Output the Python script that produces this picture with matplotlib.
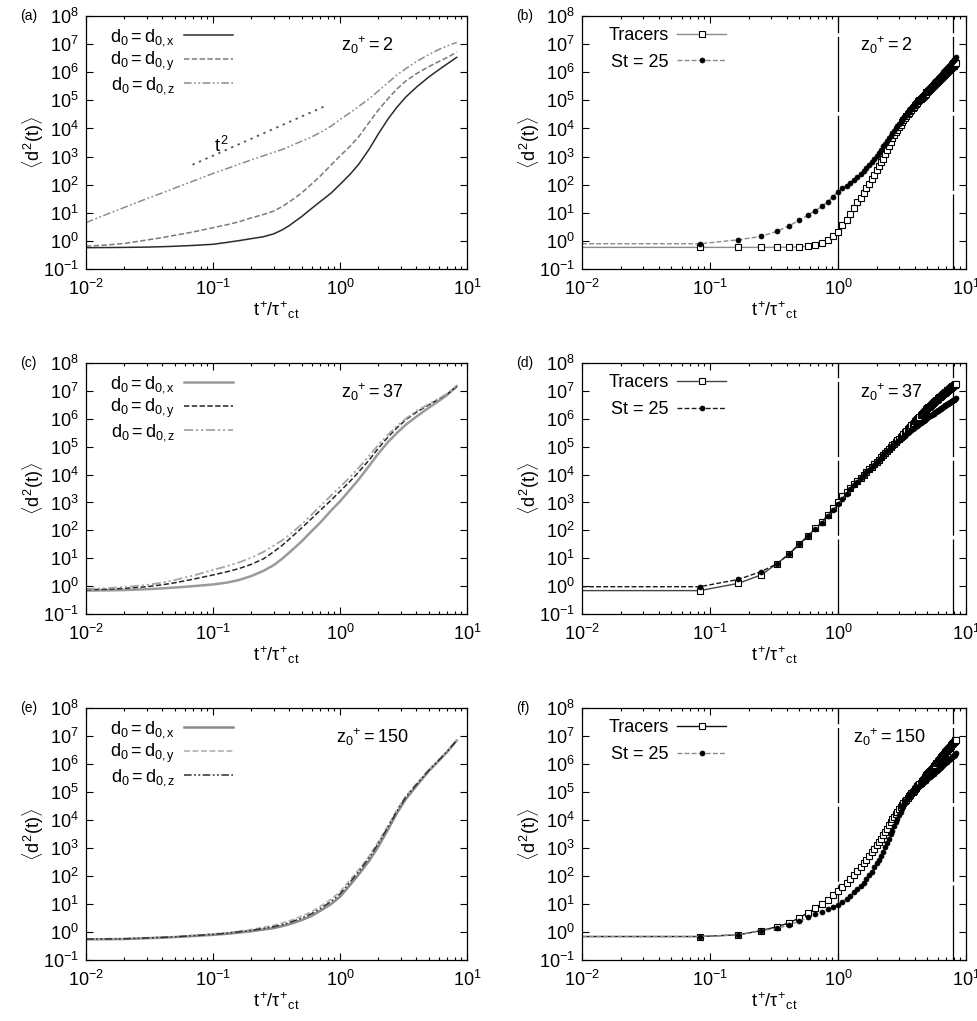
import numpy as np
import matplotlib
matplotlib.use('Agg')
import matplotlib.pyplot as plt
from matplotlib.ticker import LogLocator, NullLocator, NullFormatter

plt.rcParams['font.family'] = ['Liberation Sans', 'DejaVu Sans']
plt.rcParams['mathtext.fontset'] = 'custom'
plt.rcParams['mathtext.rm'] = 'Liberation Sans'
plt.rcParams['mathtext.it'] = 'Liberation Sans'
plt.rcParams['mathtext.bf'] = 'Liberation Sans:bold'

# ─── left column: continuous curves, log10 <d^2(t)> ───────
t_curve = [0.01, 0.015, 0.02, 0.03, 0.04, 0.05, 0.07, 0.1, 0.13, 0.16, 0.2,
           0.25, 0.3, 0.35, 0.4, 0.5, 0.6, 0.7, 0.85, 1.0, 1.2, 1.4, 1.7,
           2.0, 2.4, 2.8, 3.3, 4.0, 5.0, 6.0, 7.0, 8.3]

a_x = [-0.24, -0.235, -0.23, -0.22, -0.205, -0.19, -0.16, -0.12, -0.05, 0.01, 0.08,
       0.15, 0.25, 0.39, 0.55, 0.87, 1.16, 1.40, 1.70, 2.01, 2.37, 2.72, 3.27,
       3.80, 4.35, 4.75, 5.12, 5.47, 5.83, 6.09, 6.30, 6.53]
a_y = [-0.19, -0.14, -0.09, 0.03, 0.12, 0.20, 0.32, 0.47, 0.58, 0.68, 0.82,
       0.94, 1.06, 1.22, 1.39, 1.71, 2.03, 2.31, 2.70, 3.02, 3.37, 3.70, 4.22,
       4.65, 5.07, 5.40, 5.69, 5.95, 6.20, 6.38, 6.53, 6.71]
a_z = [0.65, 0.97, 1.19, 1.50, 1.71, 1.88, 2.13, 2.40, 2.58, 2.73, 2.88,
       3.03, 3.15, 3.25, 3.36, 3.55, 3.70, 3.86, 4.08, 4.32, 4.56, 4.78, 5.06,
       5.33, 5.64, 5.90, 6.13, 6.38, 6.63, 6.81, 6.94, 7.06]

c_x = [-0.16, -0.15, -0.14, -0.11, -0.08, -0.05, 0.00, 0.06, 0.13, 0.22, 0.36,
       0.55, 0.75, 0.98, 1.21, 1.61, 1.98, 2.28, 2.71, 3.04, 3.46, 3.82, 4.32,
       4.75, 5.18, 5.49, 5.79, 6.08, 6.40, 6.64, 6.86, 7.17]
c_y = [-0.13, -0.11, -0.08, -0.02, 0.05, 0.12, 0.25, 0.40, 0.52, 0.63, 0.78,
       0.98, 1.23, 1.46, 1.69, 2.09, 2.43, 2.72, 3.08, 3.40, 3.76, 4.09, 4.53,
       4.94, 5.36, 5.67, 5.97, 6.24, 6.50, 6.71, 6.89, 7.16]
c_z = [-0.10, -0.07, -0.03, 0.04, 0.13, 0.22, 0.38, 0.58, 0.72, 0.85, 1.02,
       1.23, 1.45, 1.64, 1.84, 2.22, 2.57, 2.87, 3.25, 3.56, 3.91, 4.24, 4.68,
       5.06, 5.44, 5.74, 6.01, 6.28, 6.53, 6.73, 6.91, 7.19]

e_x = [-0.26, -0.255, -0.25, -0.22, -0.20, -0.18, -0.14, -0.10, -0.06, -0.02, 0.03,
       0.09, 0.14, 0.21, 0.28, 0.43, 0.58, 0.76, 1.00, 1.26, 1.68, 2.05, 2.55,
       3.05, 3.68, 4.24, 4.75, 5.22, 5.75, 6.12, 6.44, 6.84]
e_y = [-0.25, -0.245, -0.24, -0.21, -0.19, -0.17, -0.12, -0.07, -0.02, 0.03, 0.09,
       0.17, 0.24, 0.32, 0.40, 0.57, 0.73, 0.92, 1.17, 1.44, 1.86, 2.22, 2.72,
       3.22, 3.82, 4.36, 4.86, 5.30, 5.80, 6.16, 6.47, 6.86]
e_z = [-0.25, -0.245, -0.24, -0.21, -0.19, -0.17, -0.13, -0.08, -0.04, 0.01, 0.06,
       0.13, 0.19, 0.26, 0.34, 0.50, 0.66, 0.84, 1.09, 1.36, 1.78, 2.15, 2.66,
       3.16, 3.77, 4.31, 4.82, 5.27, 5.78, 6.14, 6.46, 6.85]

# t^2 guide in panel (a)
t2_t = [0.069, 0.741]
t2_val = [2.71, 4.77]

# ─── right column: sampled every 1/12, first entry is the t=0.01 level ──
t_samples = np.concatenate([[0.01], np.arange(1, 101) / 12.0])

b_tr = [-0.23,
        -0.23, -0.23, -0.23, -0.23, -0.22, -0.21, -0.19, -0.15, -0.07, 0.05,
        0.17, 0.32, 0.58, 0.76, 0.95, 1.17, 1.37, 1.54, 1.70, 1.88,
        2.04, 2.21, 2.36, 2.51, 2.66, 2.80, 2.93, 3.08, 3.24, 3.39,
        3.52, 3.65, 3.76, 3.86, 3.96, 4.06, 4.14, 4.22, 4.29, 4.36,
        4.43, 4.50, 4.56, 4.62, 4.67, 4.72, 4.77, 4.82, 4.87, 4.92,
        4.96, 5.00, 5.04, 5.08, 5.12, 5.16, 5.20, 5.24, 5.28, 5.31,
        5.34, 5.38, 5.41, 5.44, 5.47, 5.50, 5.53, 5.56, 5.59, 5.62,
        5.65, 5.68, 5.70, 5.73, 5.76, 5.78, 5.81, 5.83, 5.86, 5.88,
        5.91, 5.93, 5.96, 5.98, 6.00, 6.03, 6.05, 6.07, 6.10, 6.12,
        6.14, 6.16, 6.18, 6.20, 6.22, 6.24, 6.26, 6.28, 6.30, 6.32]
b_st = [-0.10,
        -0.10, 0.04, 0.16, 0.34, 0.54, 0.74, 0.92, 1.08, 1.23, 1.40,
        1.58, 1.75, 1.87, 1.97, 2.07, 2.17, 2.27, 2.37, 2.48, 2.59,
        2.70, 2.81, 2.92, 3.03, 3.14, 3.25, 3.36, 3.46, 3.56, 3.66,
        3.75, 3.84, 3.92, 4.00, 4.08, 4.15, 4.22, 4.29, 4.36, 4.43,
        4.49, 4.55, 4.61, 4.67, 4.72, 4.77, 4.82, 4.87, 4.92, 4.97,
        5.01, 5.06, 5.10, 5.14, 5.18, 5.22, 5.26, 5.30, 5.34, 5.38,
        5.41, 5.45, 5.48, 5.52, 5.55, 5.58, 5.62, 5.65, 5.68, 5.71,
        5.74, 5.77, 5.80, 5.83, 5.86, 5.88, 5.91, 5.94, 5.97, 6.00,
        6.03, 6.06, 6.08, 6.11, 6.14, 6.16, 6.19, 6.22, 6.24, 6.27,
        6.30, 6.32, 6.35, 6.38, 6.40, 6.43, 6.45, 6.48, 6.50, 6.53]

d_tr = [-0.16,
        -0.16, 0.10, 0.40, 0.80, 1.16, 1.52, 1.81, 2.07, 2.31, 2.56,
        2.80, 3.02, 3.22, 3.38, 3.52, 3.65, 3.77, 3.88, 3.99, 4.09,
        4.19, 4.28, 4.37, 4.46, 4.54, 4.62, 4.70, 4.77, 4.84, 4.91,
        4.98, 5.05, 5.11, 5.17, 5.23, 5.29, 5.35, 5.40, 5.46, 5.52,
        5.57, 5.62, 5.67, 5.72, 5.77, 5.82, 5.86, 5.91, 5.95, 6.00,
        6.04, 6.08, 6.12, 6.16, 6.20, 6.24, 6.28, 6.31, 6.35, 6.38,
        6.41, 6.44, 6.47, 6.50, 6.53, 6.56, 6.59, 6.61, 6.64, 6.67,
        6.69, 6.72, 6.74, 6.77, 6.79, 6.81, 6.83, 6.86, 6.88, 6.90,
        6.92, 6.94, 6.96, 6.98, 7.00, 7.02, 7.04, 7.06, 7.08, 7.10,
        7.12, 7.13, 7.15, 7.17, 7.18, 7.20, 7.21, 7.23, 7.24, 7.26]
d_st = [-0.02,
        -0.02, 0.24, 0.52, 0.80, 1.16, 1.50, 1.79, 2.04, 2.28, 2.51,
        2.73, 2.93, 3.14, 3.32, 3.48, 3.62, 3.75, 3.87, 3.98, 4.08,
        4.18, 4.27, 4.36, 4.45, 4.53, 4.61, 4.69, 4.76, 4.83, 4.90,
        4.96, 5.02, 5.08, 5.13, 5.18, 5.23, 5.28, 5.32, 5.36, 5.40,
        5.44, 5.48, 5.52, 5.56, 5.60, 5.63, 5.66, 5.70, 5.73, 5.76,
        5.79, 5.82, 5.85, 5.88, 5.91, 5.94, 5.96, 5.99, 6.02, 6.04,
        6.06, 6.09, 6.11, 6.13, 6.15, 6.17, 6.19, 6.21, 6.23, 6.25,
        6.27, 6.29, 6.31, 6.33, 6.35, 6.37, 6.38, 6.40, 6.42, 6.44,
        6.45, 6.47, 6.49, 6.50, 6.52, 6.53, 6.55, 6.56, 6.58, 6.59,
        6.61, 6.62, 6.64, 6.65, 6.66, 6.68, 6.69, 6.70, 6.72, 6.73]

f_tr = [-0.16,
        -0.16, -0.10, 0.05, 0.19, 0.33, 0.51, 0.69, 0.85, 0.99, 1.14,
        1.32, 1.48, 1.62, 1.75, 1.88, 2.03, 2.17, 2.31, 2.45, 2.59,
        2.72, 2.85, 2.97, 3.10, 3.22, 3.34, 3.46, 3.57, 3.69, 3.81,
        3.92, 4.03, 4.12, 4.21, 4.30, 4.38, 4.46, 4.53, 4.60, 4.67,
        4.73, 4.79, 4.85, 4.90, 4.95, 5.00, 5.05, 5.10, 5.15, 5.20,
        5.24, 5.29, 5.34, 5.38, 5.43, 5.47, 5.52, 5.56, 5.60, 5.64,
        5.68, 5.72, 5.76, 5.80, 5.83, 5.87, 5.91, 5.94, 5.98, 6.02,
        6.05, 6.08, 6.12, 6.15, 6.18, 6.21, 6.24, 6.28, 6.31, 6.34,
        6.37, 6.40, 6.43, 6.46, 6.48, 6.51, 6.54, 6.57, 6.59, 6.62,
        6.65, 6.67, 6.70, 6.73, 6.75, 6.78, 6.80, 6.82, 6.85, 6.87]
f_st = [-0.16,
        -0.16, -0.10, 0.05, 0.13, 0.25, 0.39, 0.52, 0.63, 0.73, 0.81,
        0.90, 0.96, 1.08, 1.18, 1.30, 1.42, 1.52, 1.64, 1.76, 1.90,
        2.03, 2.16, 2.31, 2.45, 2.58, 2.72, 2.86, 3.03, 3.19, 3.34,
        3.50, 3.62, 3.78, 3.92, 4.05, 4.17, 4.30, 4.42, 4.52, 4.62,
        4.70, 4.78, 4.84, 4.90, 4.95, 5.00, 5.04, 5.08, 5.12, 5.15,
        5.19, 5.22, 5.25, 5.29, 5.32, 5.35, 5.38, 5.41, 5.44, 5.47,
        5.50, 5.53, 5.55, 5.58, 5.61, 5.64, 5.66, 5.69, 5.71, 5.74,
        5.76, 5.79, 5.81, 5.84, 5.86, 5.88, 5.91, 5.93, 5.95, 5.98,
        6.00, 6.02, 6.04, 6.06, 6.08, 6.10, 6.13, 6.15, 6.17, 6.19,
        6.21, 6.22, 6.24, 6.26, 6.28, 6.30, 6.32, 6.34, 6.36, 6.38]

# vertical reference times on the right column
t_marks = [1.0, 7.9]

z0_labels = ['2', '37', '150']

# ─── helpers ──────────────────────────────────────────────
DASHED = (3.5, 1.6)
DASHDOTDOT = (5, 1.6, 1.2, 1.6, 1.2, 1.6)


def prep(ax, tag):
    ax.set_xscale('log')
    ax.set_yscale('log')
    ax.set_xlim(1e-2, 1e1)
    ax.set_ylim(1e-1, 1e8)
    ax.xaxis.set_major_locator(LogLocator(base=10, numticks=10))
    ax.xaxis.set_minor_locator(LogLocator(base=10, subs=np.arange(2, 10), numticks=20))
    ax.xaxis.set_minor_formatter(NullFormatter())
    ax.yaxis.set_major_locator(LogLocator(base=10, numticks=20))
    ax.yaxis.set_minor_locator(NullLocator())
    ax.tick_params(which='both', direction='in', top=True, right=True,
                   labelsize=13, width=0.8)
    ax.tick_params(axis='x', which='both', pad=7)
    ax.tick_params(axis='y', which='both', pad=5)
    ax.tick_params(which='major', length=5)
    ax.tick_params(which='minor', length=2.5)
    for s in ax.spines.values():
        s.set_linewidth(0.9)
    ax.set_xlabel(r'$t^{+}/\tau^{+}{}_{ct}$', fontsize=13, labelpad=0)
    ax.set_ylabel(r'$\langle d^{2}(t)\rangle$', fontsize=13, labelpad=-2)
    ax.text(-0.172, 1.0, f'({tag})', transform=ax.transAxes,
            fontsize=10, ha='left', va='center')


def z0_text(ax, val, x):
    ax.text(x, 0.885, r'$z_0{}^{+} = %s$' % val, transform=ax.transAxes,
            fontsize=13, ha='left', va='center')


fig = plt.figure(figsize=(9.77, 10.21), dpi=100)
bottoms = [0.7365, 0.3986, 0.0597]
heights = [0.2478, 0.2458, 0.2468]
lefts = [0.088, 0.5957]
widths = [0.390, 0.393]

left_sets = [(a_x, a_y, a_z), (c_x, c_y, c_z), (e_x, e_y, e_z)]
# colours / widths of x, y, z curves per row
left_styles = [
    [('#2b2b2b', 1.1), ('#7a7a7a', 1.1), ('#8c8c8c', 1.1)],
    [('#9a9a9a', 1.8), ('#262626', 1.1), ('#a5a5a5', 1.3)],
    [('#8a8a8a', 1.8), ('#b0b0b0', 1.2), ('#303030', 1.1)],
]
right_sets = [(b_tr, b_st), (d_tr, d_st), (f_tr, f_st)]
right_cols = [('#8a8a8a', '#8a8a8a'), ('#444444', '#1a1a1a'), ('#111111', '#8a8a8a')]
tags = [('a', 'b'), ('c', 'd'), ('e', 'f')]
z0_x = [(0.67, 0.724), (0.67, 0.724), (0.655, 0.707)]

for row in range(3):
    # ── left: separation components ──
    ax = fig.add_axes([lefts[0], bottoms[row], widths[0], heights[row]])
    prep(ax, tags[row][0])
    vx, vy, vz = left_sets[row]
    (cx, wx), (cy, wy), (cz, wz) = left_styles[row]
    ax.plot(t_curve, 10 ** np.array(vx), color=cx, lw=wx,
            label=r'$d_0 = d_{0,x}$')
    ax.plot(t_curve, 10 ** np.array(vy), color=cy, lw=wy, dashes=DASHED,
            label=r'$d_0 = d_{0,y}$')
    ax.plot(t_curve, 10 ** np.array(vz), color=cz, lw=wz, dashes=DASHDOTDOT,
            label=r'$d_0 = d_{0,z}$')
    if row == 0:
        ax.plot(t2_t, 10 ** np.array(t2_val), color='#555555', lw=1.3,
                dashes=(1.3, 2.6))
        ax.text(0.101, 10 ** 3.18, r'$t^{2}$', fontsize=13,
                ha='left', va='baseline')
    ax.legend(loc='upper left', bbox_to_anchor=(0.035, 1.0), frameon=False,
              markerfirst=False, fontsize=13, handlelength=2.7,
              handletextpad=0.5, labelspacing=0.12, borderaxespad=0.2)
    z0_text(ax, z0_labels[row], z0_x[row][0])

    # ── right: tracers vs inertial particles ──
    ax = fig.add_axes([lefts[1], bottoms[row], widths[1], heights[row]])
    prep(ax, tags[row][1])
    for tm in t_marks:
        ax.axvline(tm, color='k', lw=0.9, dashes=(60, 3))
    tr, st = right_sets[row]
    ctr, cst = right_cols[row]
    ax.plot(t_samples, 10 ** np.array(tr), color=ctr, lw=1.0,
            marker='s', ms=4.8, mfc='white', mec='k', mew=0.8,
            markevery=slice(1, None), label='Tracers')
    ax.plot(t_samples, 10 ** np.array(st), color=cst, lw=1.0, dashes=DASHED,
            marker='o', ms=3.6, mfc='k', mec='k', mew=0.5,
            markevery=slice(1, None), label='St = 25')
    ax.legend(loc='upper left', bbox_to_anchor=(0.04, 1.0), frameon=False,
              markerfirst=False, fontsize=13, handlelength=2.7,
              handletextpad=0.5, labelspacing=0.55, borderaxespad=0.2)
    z0_text(ax, z0_labels[row], z0_x[row][1])

fig.savefig('out.png', dpi=100)
